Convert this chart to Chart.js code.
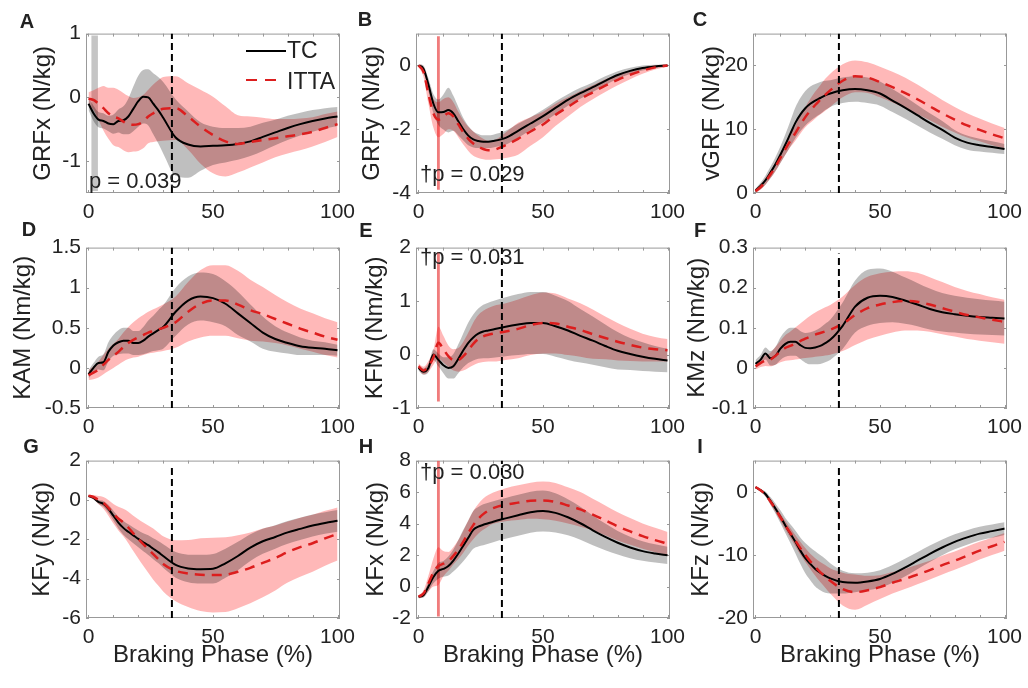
<!DOCTYPE html>
<html>
<head>
<meta charset="utf-8">
<title>Braking phase kinetics: TC vs ITTA</title>
<script src="https://cdn.jsdelivr.net/npm/chart.js@4.4.1/dist/chart.umd.min.js"></script>
<style>
  body { margin: 0; background: #fff; }
  #fig { position: relative; width: 1028px; height: 688px; overflow: hidden;
         font-family: "Liberation Sans", Arial, Helvetica, sans-serif; color: #222; }
  #fig canvas { position: absolute; }
  .letter { position: absolute; font-weight: bold; font-size: 20px; line-height: 22px;
            transform: translate(-50%, -50%); }
  .note { position: absolute; font-size: 22px; line-height: 26px; white-space: nowrap; }
  .key { position: absolute; font-size: 23px; line-height: 26px; }
  .swatch { position: absolute; height: 0; }
</style>
</head>
<body>
<div id="fig"></div>
<script>
// % of braking phase sampled for every curve
const phase = [0, 2, 4, 6, 8, 10, 12, 14, 16, 18, 20, 22, 24, 26, 28, 30,
               35, 40, 45, 50, 55, 60, 65, 70, 75, 80, 85, 90, 95, 100];
const phaseMinor = [0, 10, 20, 30, 40, 50, 60, 70, 80, 90, 100];
const phaseLabels = [0, 50, 100];
const eventPhase = 33.5;

// A - GRFx
const grfxTC     = [-0.1, -0.25, -0.35, -0.37, -0.41, -0.42, -0.37, -0.36, -0.3, -0.18, -0.06, 0.01, 0.0, -0.1, -0.2, -0.32,
                    -0.63, -0.74, -0.77, -0.76, -0.75, -0.73, -0.69, -0.62, -0.55, -0.48, -0.42, -0.37, -0.33, -0.3];
const grfxTCsd   = [0.1, 0.12, 0.12, 0.12, 0.12, 0.15, 0.18, 0.22, 0.28, 0.35, 0.4, 0.42, 0.44, 0.48, 0.52, 0.56,
                    0.6, 0.52, 0.38, 0.3, 0.27, 0.25, 0.23, 0.22, 0.2, 0.19, 0.18, 0.17, 0.16, 0.15];
const grfxITTA   = [-0.02, -0.04, -0.1, -0.17, -0.25, -0.3, -0.33, -0.38, -0.42, -0.43, -0.42, -0.38, -0.3, -0.25, -0.21, -0.18,
                    -0.17, -0.3, -0.46, -0.59, -0.69, -0.73, -0.7, -0.67, -0.64, -0.61, -0.58, -0.54, -0.48, -0.42];
const grfxITTAsd = [0.1, 0.15, 0.25, 0.35, 0.4, 0.45, 0.45, 0.45, 0.44, 0.42, 0.42, 0.42, 0.42, 0.45, 0.48, 0.5,
                    0.5, 0.52, 0.58, 0.6, 0.55, 0.45, 0.4, 0.35, 0.3, 0.27, 0.25, 0.23, 0.22, 0.2];
const grfxTicks  = [-1, 0, 1];
const grfxRange  = [-1.5, 1];

// B - GRFy
const grfyTC     = [0, -0.1, -0.6, -1.2, -1.47, -1.46, -1.4, -1.5, -1.75, -2.0, -2.2, -2.32, -2.37, -2.39, -2.39, -2.37,
                    -2.27, -2.05, -1.82, -1.59, -1.33, -1.08, -0.87, -0.68, -0.48, -0.3, -0.17, -0.08, -0.03, 0];
const grfyTCsd   = [0.05, 0.1, 0.2, 0.3, 0.4, 0.55, 0.7, 0.55, 0.45, 0.35, 0.3, 0.25, 0.22, 0.2, 0.2, 0.2,
                    0.22, 0.22, 0.2, 0.2, 0.2, 0.18, 0.17, 0.15, 0.14, 0.12, 0.1, 0.08, 0.05, 0.03];
const grfyITTA   = [0, -0.2, -0.9, -1.5, -1.7, -1.6, -1.5, -1.6, -1.85, -2.1, -2.3, -2.45, -2.55, -2.62, -2.66, -2.65,
                    -2.5, -2.3, -2.07, -1.85, -1.55, -1.3, -1.05, -0.84, -0.63, -0.45, -0.29, -0.16, -0.06, 0];
const grfyITTAsd = [0.05, 0.15, 0.3, 0.45, 0.55, 0.55, 0.5, 0.45, 0.4, 0.38, 0.38, 0.38, 0.35, 0.32, 0.3, 0.3,
                    0.4, 0.5, 0.45, 0.4, 0.35, 0.3, 0.25, 0.22, 0.2, 0.17, 0.14, 0.1, 0.07, 0.04];
const grfyTicks  = [-4, -2, 0];
const grfyRange  = [-4, 1];

// C - vGRF
const vgrfTC     = [0.4, 1.1, 2.0, 3.2, 4.5, 6.0, 7.6, 9.3, 11.0, 12.3, 13.3, 14.0, 14.5, 14.9, 15.3, 15.6,
                    16.1, 16.3, 16.1, 15.6, 14.5, 13.4, 12.2, 11.0, 9.9, 8.7, 7.9, 7.5, 7.2, 6.9];
const vgrfTCsd   = [0.3, 0.5, 0.7, 0.9, 1.1, 1.3, 1.6, 2.0, 2.4, 2.6, 2.7, 2.7, 2.6, 2.5, 2.3, 2.1,
                    2.0, 2.0, 2.0, 1.9, 1.8, 1.7, 1.6, 1.5, 1.4, 1.2, 1.1, 1.0, 0.9, 0.8];
const vgrfITTA   = [0.3, 0.9, 1.8, 2.9, 4.1, 5.5, 6.9, 8.2, 9.4, 10.7, 11.9, 12.9, 13.8, 14.6, 15.4, 16.1,
                    17.6, 18.3, 18.1, 17.4, 16.6, 15.7, 14.7, 13.6, 12.5, 11.5, 10.6, 9.9, 9.2, 8.6];
const vgrfITTAsd = [0.3, 0.4, 0.5, 0.6, 0.7, 0.8, 0.9, 1.0, 1.2, 1.4, 1.6, 1.9, 2.1, 2.3, 2.5, 2.6,
                    2.6, 2.5, 2.4, 2.4, 2.4, 2.4, 2.3, 2.2, 2.1, 2.0, 1.9, 1.8, 1.7, 1.6];
const vgrfTicks  = [0, 10, 20];
const vgrfRange  = [0, 25];

// D - KAM
const kamTC      = [-0.08, 0.0, 0.06, 0.07, 0.2, 0.28, 0.32, 0.34, 0.34, 0.31, 0.31, 0.34, 0.39, 0.43, 0.47, 0.51,
                    0.7, 0.84, 0.89, 0.87, 0.8, 0.68, 0.56, 0.44, 0.36, 0.31, 0.27, 0.25, 0.24, 0.22];
const kamTCsd    = [0.05, 0.06, 0.08, 0.1, 0.12, 0.13, 0.15, 0.16, 0.16, 0.15, 0.15, 0.17, 0.2, 0.22, 0.25, 0.27,
                    0.3, 0.3, 0.3, 0.3, 0.28, 0.27, 0.23, 0.2, 0.16, 0.13, 0.11, 0.09, 0.08, 0.07];
const kamITTA    = [-0.09, -0.06, -0.02, 0.04, 0.1, 0.15, 0.2, 0.26, 0.31, 0.35, 0.38, 0.41, 0.44, 0.46, 0.48, 0.5,
                    0.57, 0.7, 0.8, 0.84, 0.84, 0.79, 0.72, 0.67, 0.61, 0.55, 0.49, 0.44, 0.39, 0.35];
const kamITTAsd  = [0.06, 0.08, 0.1, 0.12, 0.14, 0.15, 0.16, 0.18, 0.2, 0.22, 0.24, 0.25, 0.26, 0.27, 0.28, 0.29,
                    0.32, 0.37, 0.42, 0.44, 0.44, 0.42, 0.38, 0.34, 0.3, 0.27, 0.25, 0.24, 0.23, 0.22];
const kamTicks   = [-0.5, 0, 0.5, 1, 1.5];
const kamRange   = [-0.5, 1.5];

// E - KFM
const kfmTC      = [-0.25, -0.32, -0.25, 0.0, -0.1, -0.2, -0.25, -0.22, -0.08, 0.08, 0.22, 0.32, 0.39, 0.43, 0.45, 0.47,
                    0.52, 0.56, 0.59, 0.59, 0.53, 0.45, 0.35, 0.26, 0.16, 0.07, 0.01, -0.04, -0.08, -0.11];
const kfmTCsd    = [0.05, 0.06, 0.08, 0.1, 0.12, 0.15, 0.2, 0.23, 0.27, 0.32, 0.38, 0.43, 0.47, 0.5, 0.52, 0.53,
                    0.55, 0.57, 0.58, 0.58, 0.57, 0.55, 0.5, 0.45, 0.4, 0.35, 0.3, 0.27, 0.24, 0.22];
const kfmITTA    = [-0.22, -0.3, -0.22, -0.05, 0.22, 0.1, -0.03, -0.1, -0.1, -0.03, 0.08, 0.2, 0.29, 0.34, 0.37, 0.39,
                    0.43, 0.48, 0.55, 0.59, 0.58, 0.52, 0.46, 0.38, 0.31, 0.24, 0.18, 0.13, 0.1, 0.08];
const kfmITTAsd  = [0.05, 0.07, 0.1, 0.14, 0.3, 0.25, 0.2, 0.2, 0.22, 0.27, 0.33, 0.4, 0.45, 0.48, 0.5, 0.52,
                    0.53, 0.55, 0.56, 0.57, 0.56, 0.53, 0.5, 0.46, 0.4, 0.35, 0.3, 0.26, 0.23, 0.21];
const kfmTicks   = [-1, 0, 1, 2];
const kfmRange   = [-1, 2];

// F - KMz
const kmzTC      = [0.01, 0.02, 0.036, 0.024, 0.03, 0.048, 0.06, 0.065, 0.065, 0.057, 0.05, 0.049, 0.051, 0.055, 0.062, 0.07,
                    0.105, 0.153, 0.175, 0.18, 0.177, 0.168, 0.158, 0.147, 0.139, 0.134, 0.13, 0.127, 0.125, 0.123];
const kmzTCsd    = [0.01, 0.012, 0.015, 0.018, 0.022, 0.028, 0.032, 0.035, 0.035, 0.035, 0.037, 0.04, 0.042, 0.045, 0.048, 0.05,
                    0.058, 0.065, 0.07, 0.068, 0.063, 0.058, 0.054, 0.051, 0.048, 0.046, 0.045, 0.044, 0.043, 0.042];
const kmzITTA    = [0.004, 0.012, 0.018, 0.021, 0.03, 0.041, 0.05, 0.055, 0.061, 0.067, 0.073, 0.078, 0.083, 0.087, 0.091, 0.095,
                    0.11, 0.132, 0.149, 0.158, 0.164, 0.167, 0.165, 0.158, 0.149, 0.14, 0.132, 0.126, 0.12, 0.115];
const kmzITTAsd  = [0.008, 0.01, 0.013, 0.017, 0.022, 0.027, 0.032, 0.036, 0.04, 0.044, 0.048, 0.052, 0.055, 0.058, 0.06, 0.062,
                    0.068, 0.075, 0.078, 0.078, 0.076, 0.074, 0.072, 0.068, 0.065, 0.062, 0.06, 0.058, 0.056, 0.055];
const kmzTicks   = [-0.1, 0, 0.1, 0.2, 0.3];
const kmzRange   = [-0.1, 0.3];

// G - KFy
const kfyTC      = [0.2, 0.1, -0.1, -0.2, -0.45, -0.8, -1.15, -1.42, -1.62, -1.8, -1.98, -2.15, -2.3, -2.48, -2.65, -2.85,
                    -3.3, -3.48, -3.52, -3.5, -3.22, -2.85, -2.42, -2.1, -1.88, -1.65, -1.47, -1.3, -1.17, -1.06];
const kfyTCsd    = [0.05, 0.07, 0.1, 0.15, 0.2, 0.25, 0.3, 0.35, 0.38, 0.4, 0.43, 0.46, 0.5, 0.53, 0.56, 0.6,
                    0.65, 0.7, 0.73, 0.75, 0.74, 0.72, 0.68, 0.64, 0.6, 0.58, 0.57, 0.56, 0.55, 0.55];
const kfyITTA    = [0.22, 0.15, 0.0, -0.15, -0.4, -0.7, -0.95, -1.15, -1.4, -1.7, -1.98, -2.25, -2.5, -2.75, -3.0, -3.25,
                    -3.6, -3.74, -3.8, -3.82, -3.8, -3.65, -3.45, -3.2, -2.95, -2.65, -2.4, -2.2, -1.95, -1.73];
const kfyITTAsd  = [0.05, 0.1, 0.2, 0.3, 0.4, 0.5, 0.6, 0.7, 0.8, 0.9, 1.0, 1.1, 1.2, 1.3, 1.35, 1.4,
                    1.55, 1.7, 1.85, 1.9, 1.9, 1.85, 1.8, 1.75, 1.65, 1.55, 1.5, 1.45, 1.4, 1.35];
const kfyTicks   = [-6, -4, -2, 0, 2];
const kfyRange   = [-6, 2];

// H - KFx
const kfxTC      = [-0.65, -0.55, 0.0, 0.6, 1.0, 1.12, 1.3, 1.65, 2.1, 2.6, 3.1, 3.6, 3.8, 3.92, 4.02, 4.12,
                    4.33, 4.53, 4.72, 4.8, 4.68, 4.4, 4.02, 3.57, 3.15, 2.78, 2.48, 2.25, 2.1, 1.98];
const kfxTCsd    = [0.1, 0.15, 0.3, 0.4, 0.5, 0.5, 0.6, 0.7, 0.85, 1.0, 1.1, 1.2, 1.25, 1.3, 1.3, 1.3,
                    1.3, 1.3, 1.3, 1.3, 1.25, 1.15, 1.05, 0.95, 0.85, 0.75, 0.68, 0.62, 0.58, 0.55];
const kfxITTA    = [-0.65, -0.45, 0.2, 0.9, 1.3, 1.45, 1.6, 1.95, 2.35, 2.85, 3.4, 3.9, 4.3, 4.6, 4.82, 4.98,
                    5.2, 5.33, 5.45, 5.47, 5.38, 5.15, 4.9, 4.57, 4.2, 3.82, 3.5, 3.2, 2.95, 2.72];
const kfxITTAsd  = [0.1, 0.2, 0.5, 0.9, 1.2, 0.8, 0.6, 0.55, 0.6, 0.7, 0.8, 0.9, 0.95, 1.0, 1.0, 1.0,
                    1.05, 1.1, 1.15, 1.2, 1.2, 1.15, 1.1, 1.0, 0.95, 0.9, 0.85, 0.8, 0.78, 0.75];
const kfxTicks   = [-2, 0, 2, 4, 6, 8];
const kfxRange   = [-2, 8];

// I - KFz
const kfzTC      = [0.8, 0.3, -0.3, -1.4, -2.6, -3.9, -5.3, -6.6, -7.9, -9.3, -10.5, -11.4, -12.2, -12.8, -13.3, -13.7,
                    -14.3, -14.4, -14.2, -13.8, -13.0, -12.0, -10.9, -9.8, -8.8, -7.9, -7.2, -6.6, -6.2, -5.8];
const kfzTCsd    = [0.1, 0.2, 0.4, 0.6, 0.8, 1.0, 1.2, 1.5, 1.8, 2.1, 2.4, 2.6, 2.8, 2.8, 2.7, 2.4,
                    1.8, 1.5, 1.4, 1.4, 1.4, 1.4, 1.35, 1.3, 1.25, 1.2, 1.15, 1.1, 1.05, 1.0];
const kfzITTA    = [0.8, 0.3, -0.4, -1.5, -2.7, -4.0, -5.3, -6.5, -7.7, -8.9, -10.0, -11.0, -11.9, -12.7, -13.4, -14.1,
                    -15.4, -15.9, -15.6, -15.1, -14.4, -13.8, -13.1, -12.4, -11.6, -10.9, -10.1, -9.3, -8.6, -7.9];
const kfzITTAsd  = [0.1, 0.2, 0.3, 0.4, 0.5, 0.6, 0.7, 0.8, 0.9, 1.0, 1.1, 1.2, 1.4, 1.6, 1.8, 2.0,
                    2.6, 2.8, 2.3, 1.9, 1.7, 1.6, 1.55, 1.5, 1.5, 1.45, 1.45, 1.4, 1.4, 1.4];
const kfzTicks   = [-20, -10, 0];
const kfzRange   = [-20, 5];

// upper end of the dashed event line in each panel (A..I)
const eventTop = [1, 1, 25, 1.5, 2, 0.285, 1.7, 8, 4];

// significant clusters: [from, to] in % phase, and their vertical extent
const grfxSpan = [1.1, 3.8], grfxSpanY = [-1.47, 0.97];
const grfySpan = [7.4, 8.6], grfySpanY = [-3.9, 0.92];
const kfmSpan  = [7.4, 8.6], kfmSpanY  = [-0.88, 1.92];
const kfxSpan  = [7.4, 8.6], kfxSpanY  = [-1.9, 8.0];

const pNotes = ['p = 0.039', '\u2020p = 0.029', '\u2020p = 0.031', '\u2020p = 0.030'];

const panels = [
  { letter: 'A', title: 'GRFx (N/kg)', tc: grfxTC, tcSd: grfxTCsd, itta: grfxITTA, ittaSd: grfxITTAsd, ticks: grfxTicks, range: grfxRange, span: grfxSpan, spanY: grfxSpanY, spanColor: 'rgba(150,150,150,0.55)' },
  { letter: 'B', title: 'GRFy (N/kg)', tc: grfyTC, tcSd: grfyTCsd, itta: grfyITTA, ittaSd: grfyITTAsd, ticks: grfyTicks, range: grfyRange, span: grfySpan, spanY: grfySpanY, spanColor: 'rgba(235,80,80,0.75)' },
  { letter: 'C', title: 'vGRF (N/kg)', tc: vgrfTC, tcSd: vgrfTCsd, itta: vgrfITTA, ittaSd: vgrfITTAsd, ticks: vgrfTicks, range: vgrfRange },
  { letter: 'D', title: 'KAM (Nm/kg)', tc: kamTC, tcSd: kamTCsd, itta: kamITTA, ittaSd: kamITTAsd, ticks: kamTicks, range: kamRange },
  { letter: 'E', title: 'KFM (Nm/kg)', tc: kfmTC, tcSd: kfmTCsd, itta: kfmITTA, ittaSd: kfmITTAsd, ticks: kfmTicks, range: kfmRange, span: kfmSpan, spanY: kfmSpanY, spanColor: 'rgba(235,80,80,0.75)' },
  { letter: 'F', title: 'KMz (Nm/kg)', tc: kmzTC, tcSd: kmzTCsd, itta: kmzITTA, ittaSd: kmzITTAsd, ticks: kmzTicks, range: kmzRange },
  { letter: 'G', title: 'KFy (N/kg)', tc: kfyTC, tcSd: kfyTCsd, itta: kfyITTA, ittaSd: kfyITTAsd, ticks: kfyTicks, range: kfyRange },
  { letter: 'H', title: 'KFx (N/kg)', tc: kfxTC, tcSd: kfxTCsd, itta: kfxITTA, ittaSd: kfxITTAsd, ticks: kfxTicks, range: kfxRange, span: kfxSpan, spanY: kfxSpanY, spanColor: 'rgba(235,80,80,0.75)' },
  { letter: 'I', title: 'KFz (N/kg)', tc: kfzTC, tcSd: kfzTCsd, itta: kfzITTA, ittaSd: kfzITTAsd, ticks: kfzTicks, range: kfzRange }
];

// page layout (px)
const colLeft = [86, 416, 753];
const boxW = 254;
const rowTop = [32, 246, 459];
const rowH = [161, 162, 159];
const AXIS_W = 86, PAD_T = 16, PAD_R = 26;
const TICK_PX = 21, TITLE_PX = 24;
const yTitleX = [43, 372, 712, 23, 375, 697, 42, 376, 701];
const letterPos = [[27, 21], [365, 19], [700, 19], [29, 229], [366, 230], [700, 230], [31, 446], [366, 446], [700, 446]];
const notePos = [[89, 181, 0], [420, 174, 1], [420, 257, 4], [420, 472, 7]];

const FONT = '"Liberation Sans", Arial, Helvetica, sans-serif';
Chart.defaults.font.family = FONT;
Chart.defaults.color = '#222';

const TC_COLOR = '#000';
const ITTA_COLOR = '#dc1e1e';

const series = (ys) => phase.map((x, i) => ({ x, y: ys[i] }));
const shifted = (ys, sd, k) => phase.map((x, i) => ({ x, y: ys[i] + k * sd[i] }));

// box outline with short inward ticks, like the MATLAB axes
const frame = {
  id: 'frame',
  beforeDatasetsDraw(chart) {
    const { ctx, chartArea: a, scales: { x, y } } = chart;
    ctx.save();
    ctx.strokeStyle = '#999';
    ctx.lineWidth = 1;
    ctx.strokeRect(a.left + 0.5, a.top + 0.5, a.width - 1, a.height - 1);
    ctx.beginPath();
    phaseMinor.forEach(v => {
      const px = Math.round(x.getPixelForValue(v)) + 0.5;
      ctx.moveTo(px, a.bottom); ctx.lineTo(px, a.bottom - 3);
      ctx.moveTo(px, a.top); ctx.lineTo(px, a.top + 3);
    });
    y.ticks.forEach(t => {
      const py = Math.round(y.getPixelForValue(t.value)) + 0.5;
      ctx.moveTo(a.left, py); ctx.lineTo(a.left + 3, py);
      ctx.moveTo(a.right, py); ctx.lineTo(a.right - 3, py);
    });
    ctx.stroke();
    ctx.restore();
  }
};

const fig = document.getElementById('fig');

panels.forEach((p, i) => {
  const col = i % 3, row = Math.floor(i / 3);
  const bottomRow = row === 2;
  const xAxisH = bottomRow ? 52 : 36;
  const left = colLeft[col] - AXIS_W;
  const top = rowTop[row] - PAD_T;
  const w = AXIS_W + boxW + PAD_R;
  const h = PAD_T + rowH[row] + xAxisH;

  const canvas = document.createElement('canvas');
  canvas.width = w;
  canvas.height = h;
  canvas.style.left = left + 'px';
  canvas.style.top = top + 'px';
  canvas.style.width = w + 'px';
  canvas.style.height = h + 'px';
  fig.appendChild(canvas);

  const curve = { pointRadius: 0, cubicInterpolationMode: 'monotone', fill: false };
  const edge = { pointRadius: 0, borderWidth: 0, borderColor: 'transparent', cubicInterpolationMode: 'monotone' };
  const straight = { pointRadius: 0, tension: 0 };

  const datasets = [
    { ...straight, label: 'event', data: [{ x: eventPhase, y: p.range[0] }, { x: eventPhase, y: eventTop[i] }],
      borderColor: '#000', borderWidth: 2, borderDash: [7, 4], fill: false, order: 0 },
    { ...curve, label: 'ITTA', data: series(p.itta), borderColor: ITTA_COLOR, borderWidth: 2.5, borderDash: [10, 7], order: 1 },
    { ...curve, label: 'TC', data: series(p.tc), borderColor: TC_COLOR, borderWidth: 2, order: 2 },
    { ...edge, label: 'TC +SD', data: shifted(p.tc, p.tcSd, 1), fill: '+1', backgroundColor: 'rgba(0,0,0,0.25)', order: 3 },
    { ...edge, label: 'TC -SD', data: shifted(p.tc, p.tcSd, -1), fill: false, order: 3 },
    { ...edge, label: 'ITTA +SD', data: shifted(p.itta, p.ittaSd, 1), fill: '+1', backgroundColor: 'rgba(255,0,0,0.28)', order: 4 },
    { ...edge, label: 'ITTA -SD', data: shifted(p.itta, p.ittaSd, -1), fill: false, order: 4 }
  ];
  if (p.span) {
    datasets.push(
      { ...straight, label: 'cluster top', data: [{ x: p.span[0], y: p.spanY[1] }, { x: p.span[1], y: p.spanY[1] }],
        borderWidth: 0, borderColor: 'transparent', fill: '+1', backgroundColor: p.spanColor, order: 5 },
      { ...straight, label: 'cluster bottom', data: [{ x: p.span[0], y: p.spanY[0] }, { x: p.span[1], y: p.spanY[0] }],
        borderWidth: 0, borderColor: 'transparent', fill: false, order: 5 }
    );
  }

  new Chart(canvas, {
    type: 'line',
    data: { datasets },
    options: {
      responsive: false,
      animation: false,
      devicePixelRatio: 1,
      layout: { padding: { top: PAD_T, right: PAD_R, left: 0, bottom: 0 } },
      plugins: { legend: { display: false }, tooltip: { enabled: false } },
      scales: {
        x: {
          type: 'linear', min: -1, max: 101,
          afterFit: s => { s.height = xAxisH; },
          afterBuildTicks: s => { s.ticks = phaseLabels.map(v => ({ value: v })); },
          grid: { display: false, drawTicks: false },
          border: { display: false },
          ticks: { padding: 7, font: { size: TICK_PX }, color: '#222', maxRotation: 0, autoSkip: false, callback: v => String(v) },
          title: { display: bottomRow, text: 'Braking Phase (%)', font: { size: TITLE_PX }, color: '#222', padding: { top: 0, bottom: 0 } }
        },
        y: {
          type: 'linear', min: p.range[0], max: p.range[1],
          afterFit: s => { s.width = AXIS_W; },
          afterBuildTicks: s => { s.ticks = p.ticks.map(v => ({ value: v })); },
          grid: { display: false, drawTicks: false },
          border: { display: false },
          ticks: { padding: 5, font: { size: TICK_PX }, color: '#222', autoSkip: false, callback: v => String(v) },
          title: { display: true, text: p.title, font: { size: TITLE_PX }, color: '#222',
                   padding: { top: yTitleX[i] - left - TITLE_PX * 0.6, bottom: 0 } }
        }
      }
    },
    plugins: [frame]
  });

  const lt = document.createElement('div');
  lt.className = 'letter';
  lt.textContent = p.letter;
  lt.style.left = letterPos[i][0] + 'px';
  lt.style.top = letterPos[i][1] + 'px';
  fig.appendChild(lt);
});

// p-value notes
notePos.forEach(([x, y], k) => {
  const d = document.createElement('div');
  d.className = 'note';
  d.textContent = pNotes[k];
  d.style.left = x + 'px';
  d.style.top = (y - 13) + 'px';
  fig.appendChild(d);
});

// legend inside panel A
function swatch(x, y, len, color, width) {
  const s = document.createElement('div');
  s.className = 'swatch';
  s.style.left = x + 'px';
  s.style.top = (y - width / 2) + 'px';
  s.style.width = len + 'px';
  s.style.borderTop = width + 'px solid ' + color;
  fig.appendChild(s);
}
function key(x, y, text) {
  const d = document.createElement('div');
  d.className = 'key';
  d.textContent = text;
  d.style.left = x + 'px';
  d.style.top = (y - 13) + 'px';
  fig.appendChild(d);
}
swatch(246, 51, 40, TC_COLOR, 2);
key(287, 50, 'TC');
swatch(246, 80, 11, ITTA_COLOR, 2.5);
swatch(265, 80, 11, ITTA_COLOR, 2.5);
key(287, 81, 'ITTA');
</script>
</body>
</html>
